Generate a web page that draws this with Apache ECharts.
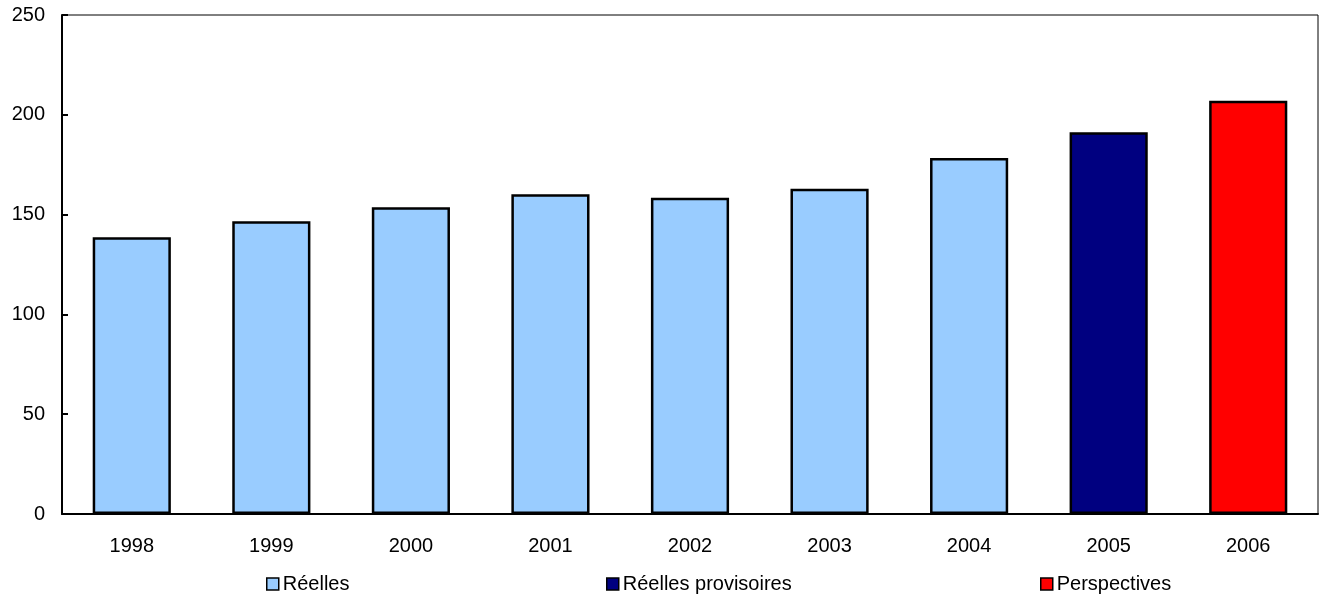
<!DOCTYPE html>
<html>
<head>
<meta charset="utf-8">
<script src="https://cdn.jsdelivr.net/npm/echarts@6/dist/echarts.min.js"></script>
<style>html,body{margin:0;padding:0;background:#fff;}#c{width:1322px;height:599px;}</style>
</head>
<body>
<div id="c"></div>
<script>
const categories = ['1998','1999','2000','2001','2002','2003','2004','2005','2006'];
const reelles = [138.6, 146.7, 153.7, 160.2, 158.5, 162.9, 178.3, null, null];
const reellesProvisoires = [null, null, null, null, null, null, null, 191.2, null];
const perspectives = [null, null, null, null, null, null, null, null, 207.0];
const yTicks = [0, 50, 100, 150, 200, 250];

const font = '"Liberation Sans", Arial, sans-serif';
const chart = echarts.init(document.getElementById('c'));
function legendAt(name, left) {
  return {
    data: [name], left: left, top: 574, itemWidth: 12, itemHeight: 12, itemGap: 0,
    icon: 'rect', padding: 0,
    textStyle: { fontFamily: font, fontSize: 20, color: '#000', padding: [0, 0, 0, -1] },
    itemStyle: { borderColor: '#000', borderWidth: 1.5 }
  };
}
const barStyle = (c) => ({ color: c, borderColor: '#000', borderWidth: 2.5 });
chart.setOption({
  animation: false,
  backgroundColor: '#fff',
  grid: { left: 62, right: 4, top: 15, bottom: 85, show: true, borderColor: '#000', borderWidth: 1 },
  legend: [legendAt('Réelles', 266), legendAt('Réelles provisoires', 606), legendAt('Perspectives', 1040)],
  xAxis: {
    type: 'category', data: categories, boundaryGap: true,
    axisLine: { lineStyle: { color: '#000', width: 2 } },
    axisTick: { inside: true, length: 6, lineStyle: { color: '#000', width: 2 } },
    axisLabel: { fontFamily: font, fontSize: 20, color: '#000', margin: 22 }
  },
  yAxis: {
    type: 'value', min: yTicks[0], max: yTicks[yTicks.length - 1], interval: 50,
    splitLine: { show: false },
    axisLine: { show: true, lineStyle: { color: '#000', width: 2 } },
    axisTick: { show: true, inside: true, length: 6, lineStyle: { color: '#000', width: 2 } },
    axisLabel: { fontFamily: font, fontSize: 20, color: '#000', margin: 17 }
  },
  series: [
    { name: 'Réelles', type: 'bar', stack: 's', data: reelles, barWidth: '56%', itemStyle: barStyle('#99CCFF') },
    { name: 'Réelles provisoires', type: 'bar', stack: 's', data: reellesProvisoires, barWidth: '56%', itemStyle: barStyle('#000080') },
    { name: 'Perspectives', type: 'bar', stack: 's', data: perspectives, barWidth: '56%', itemStyle: barStyle('#FF0000') }
  ]
});
</script>
</body>
</html>
